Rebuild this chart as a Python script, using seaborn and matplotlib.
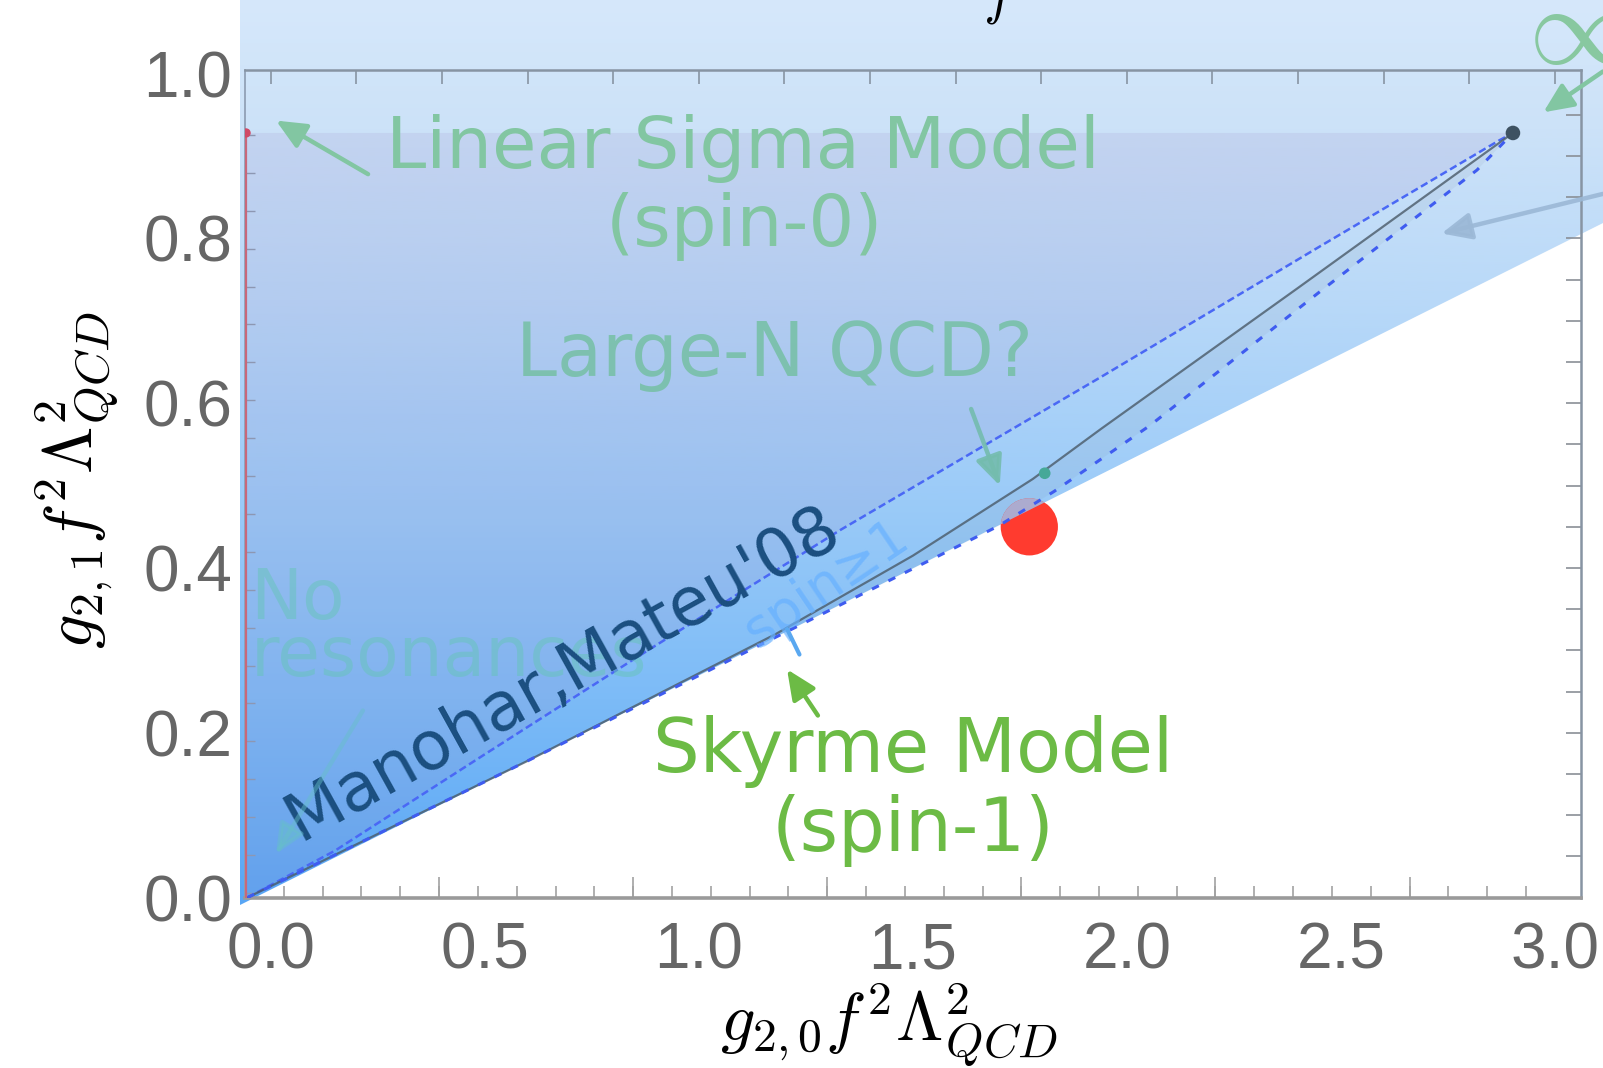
import numpy as np
import pandas as pd
import matplotlib
matplotlib.use("Agg")
import matplotlib.pyplot as plt
from matplotlib.patches import Polygon
from matplotlib.path import Path
import seaborn as sns

sns.set_theme(style="white")
plt.rcParams["font.family"] = ["DejaVu Sans"]
plt.rcParams["mathtext.fontset"] = "cm"

# ---------------- data ----------------
# shaded wedge of allowed couplings: left edge, open top, lower linear bound
wedge_x = [-0.072, -0.072, 3.30, 3.30]
wedge_y = [-0.009, 1.20, 1.20, 0.867]

# upper edge of the numerical bound (fine-dashed blue)
upper_x = [-0.055, 0.15, 0.50, 0.85, 1.33, 1.94, 2.45, 2.87, 2.902]
upper_y = [0.000, 0.057, 0.174, 0.290, 0.446, 0.632, 0.790, 0.919, 0.928]

# central curve (dark grey)
mid_x = [-0.055, 0.60, 1.18, 1.50, 1.78, 1.94, 2.40, 2.902]
mid_y = [0.000, 0.166, 0.320, 0.415, 0.508, 0.569, 0.740, 0.928]

# lower edge (sparse-dashed blue)
lower_x = [-0.055, 0.60, 1.16, 1.70, 1.83, 2.054, 2.45, 2.818, 2.902]
lower_y = [0.000, 0.166, 0.311, 0.451, 0.493, 0.573, 0.735, 0.883, 0.928]

# linear sigma model segment along g20 ~ 0
sigma_x = [-0.058, -0.058]
sigma_y = [0.000, 0.928]
sigma_top_x = [-0.058]
sigma_top_y = [0.928]

# kink where the curves meet
kink_x = [2.902]
kink_y = [0.928]

# large-N QCD estimate
large_n_x = [1.808]
large_n_y = [0.515]

# Skyrme model
skyrme_x = [1.772]
skyrme_y = [0.450]

xtick_vals = [0.0, 0.5, 1.0, 1.5, 2.0, 2.5, 3.0]
xtick_labels = ["0.0", "0.5", "1.0", "1.5", "2.0", "2.5", "3.0"]
ytick_vals = [0.0, 0.2, 0.4, 0.6, 0.8, 1.0]
ytick_labels = ["0.0", "0.2", "0.4", "0.6", "0.8", "1.0"]

# ---------------- figure ----------------
W, H, DPI = 1603, 1068, 100
fig = plt.figure(figsize=(W / DPI, H / DPI), dpi=DPI, facecolor="white")
L, R, T, B = 245.0, 1581.0, 70.0, 897.6   # plot frame in pixels
ax = fig.add_axes([L / W, 1 - B / H, (R - L) / W, (B - T) / H])
ax.set_xlim(-0.0605, 3.061)
ax.set_ylim(0.0, 1.0044)
ax.patch.set_alpha(0)
ax.set_zorder(2)

# full-figure background axes sharing the same data scale
bg = fig.add_axes([0, 0, 1, 1])
bg.set_zorder(0)
xl, yl = ax.get_xlim(), ax.get_ylim()
sx = (xl[1] - xl[0]) / (R - L)
sy = (yl[1] - yl[0]) / (B - T)
bg.set_xlim(xl[0] - L * sx, xl[1] + (W - R) * sx)
bg.set_ylim(yl[0] - (H - B) * sy, yl[1] + T * sy)
bg.axis("off")

# vertical colour gradient inside the wedge
grad_pos = np.array([-0.009, 0.240, 0.482, 0.725, 0.932, 1.089, 1.20])
grad_rgb = np.array([
    [88, 166, 245], [124, 187, 247], [155, 203, 248], [185, 217, 248],
    [204, 226, 248], [214, 232, 251], [216, 233, 251]]) / 255.0
ys = np.linspace(min(wedge_y), max(wedge_y), 500)
img = np.stack([np.interp(ys, grad_pos, grad_rgb[:, i]) for i in range(3)], axis=-1)[:, None, :]
wedge_patch = Polygon(np.c_[wedge_x, wedge_y], closed=True, transform=bg.transData,
                      facecolor="none", edgecolor="none")
bg.add_patch(wedge_patch)
im = bg.imshow(img, extent=[min(wedge_x), max(wedge_x), min(wedge_y), max(wedge_y)],
               origin="lower", aspect="auto", interpolation="bilinear")
im.set_clip_path(wedge_patch)

# faint tint over the region above the upper bound
tint_x = [xl[0]] + upper_x + [xl[0]]
tint_y = [0.0] + upper_y + [upper_y[-1]]
ax.fill(tint_x, tint_y, color="#9886c3", alpha=0.15, lw=0, zorder=1)
# greyish sliver between central curve and lower edge
ax.fill(np.r_[mid_x, lower_x[::-1]], np.r_[mid_y, lower_y[::-1]],
        color="#7d8fa6", alpha=0.10, lw=0, zorder=1)

# Skyrme point, partly covered by the translucent wedge
sns.scatterplot(x=skyrme_x, y=skyrme_y, s=1700, color="#ff3b2f", edgecolor="none",
                ax=ax, zorder=2, legend=False)
sns.scatterplot(x=skyrme_x, y=skyrme_y, s=1700, color="#97c8f8", alpha=0.8,
                edgecolor="none", ax=ax, zorder=2.1, legend=False)
ax.collections[-1].set_clip_path(Path(np.c_[wedge_x, wedge_y]), ax.transData)

# curves
sns.lineplot(x=upper_x, y=upper_y, ax=ax, color="#4a68f5", lw=1.8,
             linestyle=(0, (3, 1.5)), estimator=None, sort=False, zorder=3)
sns.lineplot(x=mid_x, y=mid_y, ax=ax, color="#4a5a68", lw=1.6, alpha=0.8,
             estimator=None, sort=False, zorder=3)
sns.lineplot(x=lower_x, y=lower_y, ax=ax, color="#3f5cf0", lw=2.2,
             linestyle=(0, (2.5, 3.5)), estimator=None, sort=False, zorder=3)
ax.plot(sigma_x, sigma_y, color="#c8687a", lw=1.6, zorder=3)

sns.scatterplot(x=kink_x, y=kink_y, s=110, color="#3e5262", edgecolor="none",
                ax=ax, zorder=4, legend=False)
sns.scatterplot(x=large_n_x, y=large_n_y, s=70, color="#46a898", edgecolor="none",
                ax=ax, zorder=4, legend=False)
sns.scatterplot(x=sigma_top_x, y=sigma_top_y, s=45, color="#d04a66", edgecolor="none",
                ax=ax, zorder=4, legend=False)

# ---------------- axes styling ----------------
for side in ["top", "right"]:
    ax.spines[side].set_color("#8794a3")
    ax.spines[side].set_linewidth(1.8)
ax.spines["bottom"].set_color("#9a9a9a")
ax.spines["bottom"].set_linewidth(2.6)
ax.spines["left"].set_color("#8c9bb0")
ax.spines["left"].set_linewidth(1.2)

ax.set_xticks(xtick_vals)
ax.set_xticklabels(xtick_labels)
ax.set_yticks(ytick_vals)
ax.set_yticklabels(ytick_labels)
ax.tick_params(axis="x", which="major", length=0, pad=17, labelsize=46,
               labelcolor="#666666", labelfontfamily="Liberation Sans")
ax.tick_params(axis="y", which="major", length=0, pad=9, labelsize=46,
               labelcolor="#666666", labelfontfamily="Liberation Sans")
ax.set_xticks(np.arange(xl[0], 2.96, 0.0907), minor=True)
ax.set_yticks(np.arange(0.0056, 0.93, 0.046), minor=True)
ax.tick_params(axis="x", which="minor", direction="in", length=9, width=1.2,
               color="#a2a2a2", bottom=True)
ax.tick_params(axis="y", which="minor", direction="in", length=7, width=1.0,
               color="#8c9bb0", left=True)

bot_long = ax.secondary_xaxis("bottom")
bot_long.set_xticks(np.arange(xl[0], 2.96, 0.0907 * 5))
bot_long.tick_params(direction="in", length=15, width=1.2, color="#a2a2a2",
                     bottom=True, labelbottom=False)
bot_long.spines["bottom"].set_visible(False)

top_ax = ax.secondary_xaxis("top")
top_ax.set_xticks(np.arange(0.0, 3.01, 0.2))
top_ax.tick_params(direction="in", length=10, width=1.2, color="#8794a3",
                   top=True, labeltop=False)
top_ax.spines["top"].set_visible(False)

right_ax = ax.secondary_yaxis("right")
right_ax.set_yticks(np.arange(0.05, 0.99, 0.05))
right_ax.tick_params(direction="in", length=11, width=1.2, color="#8a8f96",
                     right=True, labelright=False)
right_ax.spines["right"].set_visible(False)

# axis titles
fig.text(889 / W, 1 - 1025 / H, r"$g_{2,0}f^2\Lambda^2_{QCD}$", fontsize=49,
         ha="center", va="center", color="black")
fig.text(77 / W, 1 - 480 / H, r"$g_{2,1}f^2\Lambda^2_{QCD}$", fontsize=49,
         ha="center", va="center", rotation=90, color="black")
ax.text(1.703, 1.092, r"$f$", fontsize=40, ha="center", va="center", color="black")

# ---------------- annotations ----------------
def arrow(tail, head, color, alpha=1.0, lw=3.2):
    ax.annotate("", xy=head, xytext=tail, xycoords="data", textcoords="data",
                annotation_clip=False, zorder=6,
                arrowprops=dict(arrowstyle="-|>,head_length=1.0,head_width=0.45",
                                color=color, lw=lw, alpha=alpha, shrinkA=0, shrinkB=0,
                                mutation_scale=18))

green_soft = "#82c6a2"
ax.text(1.103, 0.909, "Linear Sigma Model", fontsize=52, color=green_soft,
        ha="center", va="center", zorder=5)
ax.text(1.106, 0.814, "(spin-0)", fontsize=52, color=green_soft,
        ha="center", va="center", zorder=5)
arrow((0.227, 0.878), (0.012, 0.943), green_soft)

ax.text(1.177, 0.658, "Large-N QCD?", fontsize=53, color="#78c0a8", alpha=0.9,
        ha="center", va="center", zorder=5)
arrow((1.636, 0.593), (1.703, 0.500), "#74bcae", alpha=0.9)

ax.text(-0.048, 0.362, "No", fontsize=50, color="#66c4b8", alpha=0.5,
        ha="left", va="center", zorder=5)
ax.text(-0.048, 0.292, "resonances", fontsize=50, color="#66c4b8", alpha=0.5,
        ha="left", va="center", zorder=5)
arrow((0.215, 0.227), (0.012, 0.053), "#66c0c8", alpha=0.45)

ax.text(0.681, 0.272, "Manohar,Mateu'08", fontsize=48, color="#1b4f80",
        rotation=29, rotation_mode="anchor", ha="center", va="center", zorder=5)
ax.text(1.297, 0.380, "spin≥1", fontsize=38, color="#66b0ff", alpha=0.7,
        rotation=34, rotation_mode="anchor", ha="center", va="center", zorder=5)
ax.plot([1.206, 1.235], [0.326, 0.295], color="#5aa8f0", lw=3, zorder=5)

ax.text(1.50, 0.177, "Skyrme Model", fontsize=53, color="#6cbb45",
        ha="center", va="center", zorder=5)
ax.text(1.50, 0.082, "(spin-1)", fontsize=53, color="#6cbb45",
        ha="center", va="center", zorder=5)
arrow((1.278, 0.221), (1.206, 0.277), "#6cbb45")

ax.text(3.061, 1.049, r"$\infty$", fontsize=80, color="#88c8a0",
        ha="center", va="center", zorder=5)
arrow((3.112, 1.0025), (2.973, 0.953), green_soft)
arrow((3.112, 0.854), (2.735, 0.806), "#9bb8d6", alpha=0.9)

fig.savefig("out.png", dpi=DPI, facecolor="white")
